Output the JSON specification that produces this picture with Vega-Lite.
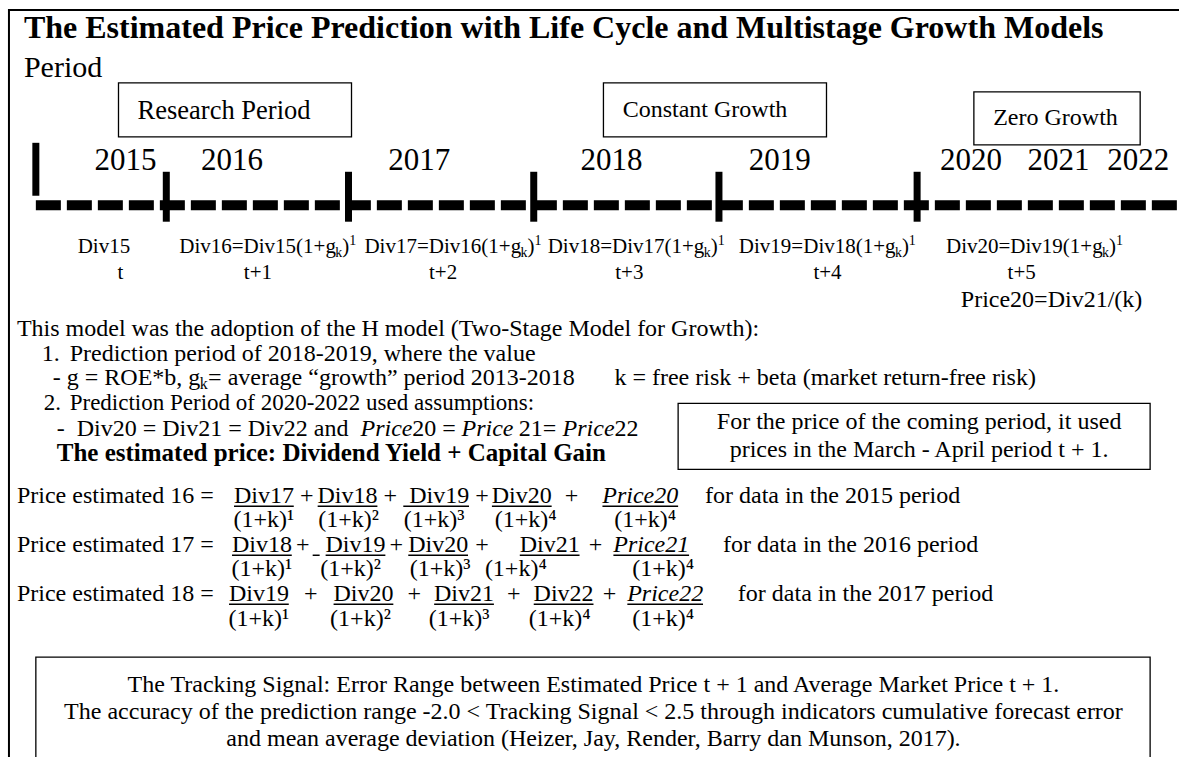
{
  "$schema": "https://vega.github.io/schema/vega-lite/v6.json",
  "width": 1184,
  "height": 758,
  "padding": 0,
  "autosize": {"type": "fit", "contains": "padding"},
  "background": "white",
  "config": {"view": {"stroke": null}, "font": "Liberation Serif", "text": {"font": "Liberation Serif", "color": "black"}},
  "encoding": {
    "x": {"field": "x", "type": "quantitative", "scale": {"domain": [0, 1184], "nice": false, "zero": false}, "axis": null},
    "y": {"field": "y", "type": "quantitative", "scale": {"domain": [0, 758], "nice": false, "zero": false, "reverse": true}, "axis": null}
  },
  "layer": [
    {
      "data": {"values": [
        {"x": 9, "y": 10, "x2": 1184, "y2": 10},
        {"x": 9, "y": 9, "x2": 9, "y2": 758}
      ]},
      "mark": {"type": "rule", "color": "black", "strokeWidth": 2},
      "encoding": {"x2": {"field": "x2"}, "y2": {"field": "y2"}}
    },
    {
      "data": {"values": [
        {"x": 36, "y": 143, "x2": 36, "y2": 196},
        {"x": 167, "y": 172, "x2": 167, "y2": 222},
        {"x": 350, "y": 172, "x2": 350, "y2": 222},
        {"x": 536, "y": 172, "x2": 536, "y2": 222},
        {"x": 722, "y": 172, "x2": 722, "y2": 222},
        {"x": 921, "y": 172, "x2": 921, "y2": 222}
      ]},
      "mark": {"type": "rule", "color": "black", "strokeWidth": 7},
      "encoding": {"x2": {"field": "x2"}, "y2": {"field": "y2"}}
    },
    {
      "data": {"values": [{"x": 36, "y": 205.5, "x2": 1184, "y2": 205.5}]},
      "mark": {"type": "rule", "color": "black", "strokeWidth": 10, "strokeDash": [25, 6]},
      "encoding": {"x2": {"field": "x2"}, "y2": {"field": "y2"}}
    },
    {
      "data": {"values": [
        {"x": 119, "y": 83, "x2": 353, "y2": 137},
        {"x": 606, "y": 83, "x2": 830, "y2": 137},
        {"x": 978, "y": 92, "x2": 1145, "y2": 145},
        {"x": 681, "y": 404, "x2": 1155, "y2": 470},
        {"x": 36, "y": 658, "x2": 1155, "y2": 790}
      ]},
      "mark": {"type": "rect", "filled": false, "stroke": "black", "strokeWidth": 1.3, "clip": true},
      "encoding": {"x2": {"field": "x2"}, "y2": {"field": "y2"}}
    },
    {
      "data": {"values": [
        {"x": 235, "y": 507, "x2": 295, "y2": 507},
        {"x": 319, "y": 507, "x2": 379, "y2": 507},
        {"x": 405, "y": 507, "x2": 471, "y2": 507},
        {"x": 494, "y": 507, "x2": 554, "y2": 507},
        {"x": 605, "y": 507, "x2": 681, "y2": 507},
        {"x": 233, "y": 556, "x2": 293, "y2": 556},
        {"x": 314, "y": 556, "x2": 321, "y2": 556},
        {"x": 327, "y": 556, "x2": 387, "y2": 556},
        {"x": 410, "y": 556, "x2": 470, "y2": 556},
        {"x": 522, "y": 556, "x2": 582, "y2": 556},
        {"x": 616, "y": 556, "x2": 692, "y2": 556},
        {"x": 230, "y": 605, "x2": 290, "y2": 605},
        {"x": 335, "y": 605, "x2": 395, "y2": 605},
        {"x": 436, "y": 605, "x2": 496, "y2": 605},
        {"x": 536, "y": 605, "x2": 596, "y2": 605},
        {"x": 630, "y": 605, "x2": 706, "y2": 605}
      ]},
      "mark": {"type": "rule", "color": "black", "strokeWidth": 1.5},
      "encoding": {"x2": {"field": "x2"}, "y2": {"field": "y2"}}
    },
    {
      "data": {"values": [{"x": 24, "y": 38, "text": "The Estimated Price Prediction with Life Cycle and Multistage Growth Models"}]},
      "mark": {"type": "text", "align": "left", "baseline": "alphabetic", "fontSize": 32, "fontWeight": "bold"},
      "encoding": {"text": {"field": "text"}}
    },
    {
      "data": {"values": [{"x": 24, "y": 77, "text": "Period"}]},
      "mark": {"type": "text", "align": "left", "baseline": "alphabetic", "fontSize": 30},
      "encoding": {"text": {"field": "text"}}
    },
    {
      "data": {"values": [{"x": 225, "y": 119, "text": "Research Period"}]},
      "mark": {"type": "text", "align": "center", "baseline": "alphabetic", "fontSize": 26.5},
      "encoding": {"text": {"field": "text"}}
    },
    {
      "data": {"values": [
        {"x": 708, "y": 117, "text": "Constant Growth"},
        {"x": 1060, "y": 125, "text": "Zero Growth"}
      ]},
      "mark": {"type": "text", "align": "center", "baseline": "alphabetic", "fontSize": 24},
      "encoding": {"text": {"field": "text"}}
    },
    {
      "data": {"values": [
        {"x": 126, "y": 170, "text": "2015"},
        {"x": 233, "y": 170, "text": "2016"},
        {"x": 421, "y": 170, "text": "2017"},
        {"x": 614, "y": 170, "text": "2018"},
        {"x": 783, "y": 170, "text": "2019"},
        {"x": 975, "y": 170, "text": "2020"},
        {"x": 1063, "y": 170, "text": "2021"},
        {"x": 1143, "y": 170, "text": "2022"}
      ]},
      "mark": {"type": "text", "align": "center", "baseline": "alphabetic", "fontSize": 31},
      "encoding": {"text": {"field": "text"}}
    },
    {
      "data": {"values": [
        {"x": 78, "y": 253, "text": "Div15"},
        {"x": 180, "y": 253, "text": "Div16=Div15(1+g"},
        {"x": 343.7, "y": 253, "text": ")"},
        {"x": 366, "y": 253, "text": "Div17=Div16(1+g"},
        {"x": 529.7, "y": 253, "text": ")"},
        {"x": 550, "y": 253, "text": "Div18=Div17(1+g"},
        {"x": 713.7, "y": 253, "text": ")"},
        {"x": 742, "y": 253, "text": "Div19=Div18(1+g"},
        {"x": 905.7, "y": 253, "text": ")"},
        {"x": 950, "y": 253, "text": "Div20=Div19(1+g"},
        {"x": 1113.7, "y": 253, "text": ")"}
      ]},
      "mark": {"type": "text", "align": "left", "baseline": "alphabetic", "fontSize": 21},
      "encoding": {"text": {"field": "text"}}
    },
    {
      "data": {"values": [
        {"x": 336.7, "y": 257, "text": "k"},
        {"x": 522.7, "y": 257, "text": "k"},
        {"x": 706.7, "y": 257, "text": "k"},
        {"x": 898.7, "y": 257, "text": "k"},
        {"x": 1106.7, "y": 257, "text": "k"},
        {"x": 350.7, "y": 245, "text": "1"},
        {"x": 536.7, "y": 245, "text": "1"},
        {"x": 720.7, "y": 245, "text": "1"},
        {"x": 912.7, "y": 245, "text": "1"},
        {"x": 1120.7, "y": 245, "text": "1"}
      ]},
      "mark": {"type": "text", "align": "left", "baseline": "alphabetic", "fontSize": 14},
      "encoding": {"text": {"field": "text"}}
    },
    {
      "data": {"values": [
        {"x": 121, "y": 279, "text": "t"},
        {"x": 259, "y": 279, "text": "t+1"},
        {"x": 445, "y": 279, "text": "t+2"},
        {"x": 632, "y": 279, "text": "t+3"},
        {"x": 831, "y": 279, "text": "t+4"},
        {"x": 1026, "y": 279, "text": "t+5"}
      ]},
      "mark": {"type": "text", "align": "center", "baseline": "alphabetic", "fontSize": 21},
      "encoding": {"text": {"field": "text"}}
    },
    {
      "data": {"values": [
        {"x": 1056, "y": 307, "text": "Price20=Div21/(k)"},
        {"x": 923, "y": 430, "text": "For the price of the coming period, it used"},
        {"x": 923, "y": 458, "text": "prices in the March - April period t + 1."},
        {"x": 596, "y": 693, "text": "The Tracking Signal: Error Range between Estimated Price t + 1 and Average Market Price t + 1."},
        {"x": 596, "y": 720, "text": "The accuracy of the prediction range -2.0 < Tracking Signal < 2.5 through indicators cumulative forecast error"},
        {"x": 596, "y": 747, "text": "and mean average deviation (Heizer, Jay, Render, Barry dan Munson, 2017)."},
        {"x": 265, "y": 504, "text": "Div17"},
        {"x": 308, "y": 504, "text": "+"},
        {"x": 349, "y": 504, "text": "Div18"},
        {"x": 392, "y": 504, "text": "+"},
        {"x": 441, "y": 504, "text": "Div19"},
        {"x": 484, "y": 504, "text": "+"},
        {"x": 524, "y": 504, "text": "Div20"},
        {"x": 574, "y": 504, "text": "+"},
        {"x": 265, "y": 528, "text": "(1+k)¹"},
        {"x": 350, "y": 528, "text": "(1+k)²"},
        {"x": 436, "y": 528, "text": "(1+k)³"},
        {"x": 528, "y": 528, "text": "(1+k)⁴"},
        {"x": 648, "y": 528, "text": "(1+k)⁴"},
        {"x": 263, "y": 553, "text": "Div18"},
        {"x": 304, "y": 553, "text": "+"},
        {"x": 357, "y": 553, "text": "Div19"},
        {"x": 398, "y": 553, "text": "+"},
        {"x": 440, "y": 553, "text": "Div20"},
        {"x": 484, "y": 553, "text": "+"},
        {"x": 552, "y": 553, "text": "Div21"},
        {"x": 598, "y": 553, "text": "+"},
        {"x": 263, "y": 577, "text": "(1+k)¹"},
        {"x": 352, "y": 577, "text": "(1+k)²"},
        {"x": 442, "y": 577, "text": "(1+k)³"},
        {"x": 518, "y": 577, "text": "(1+k)⁴"},
        {"x": 666, "y": 577, "text": "(1+k)⁴"},
        {"x": 260, "y": 602, "text": "Div19"},
        {"x": 312, "y": 602, "text": "+"},
        {"x": 365, "y": 602, "text": "Div20"},
        {"x": 416, "y": 602, "text": "+"},
        {"x": 466, "y": 602, "text": "Div21"},
        {"x": 516, "y": 602, "text": "+"},
        {"x": 566, "y": 602, "text": "Div22"},
        {"x": 612, "y": 602, "text": "+"},
        {"x": 260, "y": 627, "text": "(1+k)¹"},
        {"x": 362, "y": 627, "text": "(1+k)²"},
        {"x": 461, "y": 627, "text": "(1+k)³"},
        {"x": 562, "y": 627, "text": "(1+k)⁴"},
        {"x": 666, "y": 627, "text": "(1+k)⁴"}
      ]},
      "mark": {"type": "text", "align": "center", "baseline": "alphabetic", "fontSize": 24},
      "encoding": {"text": {"field": "text"}}
    },
    {
      "data": {"values": [
        {"x": 17, "y": 336, "text": "This model was the adoption of the H model (Two-Stage Model for Growth):"},
        {"x": 42, "y": 361, "text": "1."},
        {"x": 70, "y": 361, "text": "Prediction period of 2018-2019, where the value"},
        {"x": 53, "y": 386, "text": "- g = ROE*b, g"},
        {"x": 209, "y": 386, "text": "= average “growth” period 2013-2018"},
        {"x": 617, "y": 386, "text": "k = free risk + beta (market return-free risk)"},
        {"x": 57, "y": 437, "text": "-"},
        {"x": 77, "y": 437, "text": "Div20 = Div21 = Div22 and"},
        {"x": 414, "y": 437, "text": "20 ="},
        {"x": 521, "y": 437, "text": "21="},
        {"x": 617, "y": 437, "text": "22"},
        {"x": 17, "y": 504, "text": "Price estimated 16 ="},
        {"x": 708, "y": 504, "text": "for data in the 2015 period"},
        {"x": 17, "y": 553, "text": "Price estimated 17 ="},
        {"x": 726, "y": 553, "text": "for data in the 2016 period"},
        {"x": 17, "y": 602, "text": "Price estimated 18 ="},
        {"x": 741, "y": 602, "text": "for data in the 2017 period"}
      ]},
      "mark": {"type": "text", "align": "left", "baseline": "alphabetic", "fontSize": 24},
      "encoding": {"text": {"field": "text"}}
    },
    {
      "data": {"values": [
        {"x": 44, "y": 411, "text": "2."},
        {"x": 70, "y": 411, "text": "Prediction Period of 2020-2022 used assumptions:"}
      ]},
      "mark": {"type": "text", "align": "left", "baseline": "alphabetic", "fontSize": 23},
      "encoding": {"text": {"field": "text"}}
    },
    {
      "data": {"values": [{"x": 200.5, "y": 390, "text": "k"}]},
      "mark": {"type": "text", "align": "left", "baseline": "alphabetic", "fontSize": 16},
      "encoding": {"text": {"field": "text"}}
    },
    {
      "data": {"values": [
        {"x": 362, "y": 437, "text": "Price"},
        {"x": 463.5, "y": 437, "text": "Price"},
        {"x": 565, "y": 437, "text": "Price"}
      ]},
      "mark": {"type": "text", "align": "left", "baseline": "alphabetic", "fontSize": 24, "fontStyle": "italic"},
      "encoding": {"text": {"field": "text"}}
    },
    {
      "data": {"values": [{"x": 57, "y": 462, "text": "The estimated price: Dividend Yield + Capital Gain"}]},
      "mark": {"type": "text", "align": "left", "baseline": "alphabetic", "fontSize": 25, "fontWeight": "bold"},
      "encoding": {"text": {"field": "text"}}
    },
    {
      "data": {"values": [
        {"x": 643, "y": 504, "text": "Price20"},
        {"x": 654, "y": 553, "text": "Price21"},
        {"x": 668, "y": 602, "text": "Price22"}
      ]},
      "mark": {"type": "text", "align": "center", "baseline": "alphabetic", "fontSize": 24, "fontStyle": "italic"},
      "encoding": {"text": {"field": "text"}}
    }
  ]
}
